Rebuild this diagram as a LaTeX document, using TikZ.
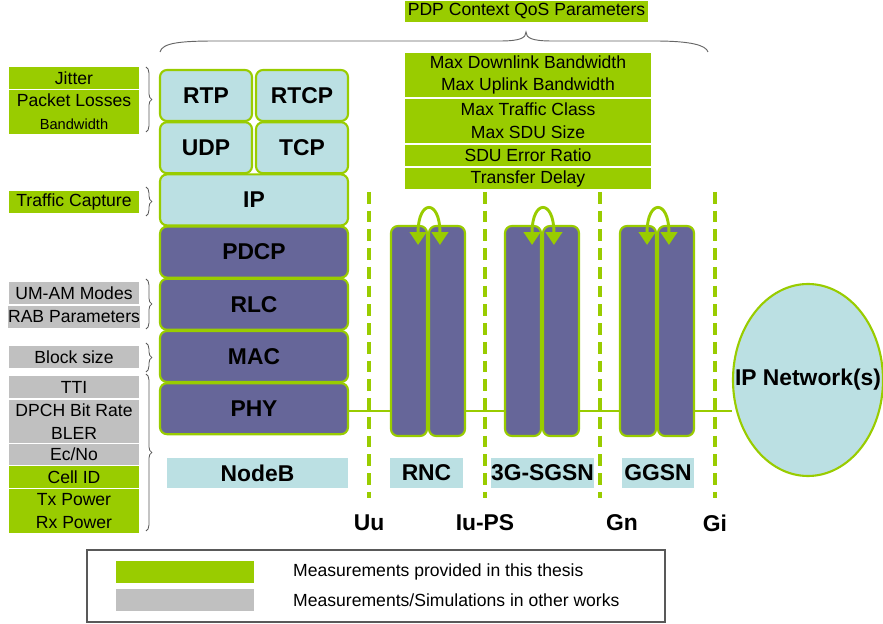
\documentclass[tikz,border=0pt]{standalone}
\usepackage{fontspec}
\setmainfont{Liberation Sans}
\usetikzlibrary{arrows.meta,shapes.geometric,decorations.pathreplacing,backgrounds,calc}
\definecolor{qosgreen}{HTML}{99CC00}
\definecolor{stackblue}{HTML}{BBE0E3}
\definecolor{stackpurple}{HTML}{666699}
\definecolor{othergray}{HTML}{C0C0C0}
\tikzset{
  sz/.style 2 args={minimum width=#1*0.03cm,minimum height=#2*0.03cm},
  meas/.style={fill=#1,inner sep=0pt,align=center,font=\fontsize{15}{19.5}\selectfont},
  stack/.style={draw=qosgreen,line width=1.8pt,rounded corners=6pt,fill=#1,inner sep=0pt,font=\fontsize{19.5}{22}\selectfont\bfseries},
  devtag/.style={fill=stackblue,inner sep=0pt,font=\fontsize{19.5}{22}\selectfont\bfseries},
  lbrace/.style={decorate,decoration={brace,amplitude=5pt},draw=black!65,line width=0.7pt},
  iface/.style={draw=qosgreen,line width=3pt,dash pattern=on 10pt off 6pt},
  hop/.style={draw=qosgreen,line width=2.5pt,{Triangle[width=14pt,length=11pt]}-{Triangle[width=14pt,length=11pt]}},
}
\begin{document}
\begin{tikzpicture}[x=0.03cm,y=-0.03cm]
\useasboundingbox (0,0) rectangle (883,624);
% PDP context parameters
\node[meas=qosgreen,sz={243}{21}] (pdp) at (526.5,11.5) {PDP Context QoS Parameters};
\draw[black!60,line width=0.8pt] (160,52) .. controls (162,43) and (180,41) .. (215,41) -- (500,41) .. controls (520,41) and (526,38) .. (526,32) .. controls (526,38) and (532,41) .. (552,41) -- (655,41) .. controls (690,41) and (706,45) .. (708,52);
\node[meas=qosgreen,sz={246}{44}] (qa) at (528,75) {Max Downlink Bandwidth\\Max Uplink Bandwidth};
\node[meas=qosgreen,sz={246}{44}] (qb) at (528,121) {Max Traffic Class\\Max SDU Size};
\node[meas=qosgreen,sz={246}{21}] (qc) at (528,155.5) {SDU Error Ratio};
\node[meas=qosgreen,sz={246}{21}] (qd) at (528,178.5) {Transfer Delay};
% measured parameters on the left
\node[meas=qosgreen,sz={130}{22}] (jit) at (74,78) {Jitter};
\node[meas=qosgreen,sz={130}{44}] (pkt) at (74,112) {Packet Losses\\{\fontsize{12.5}{15}\selectfont Bandwidth}};
\node[meas=qosgreen,sz={130}{22}] (trf) at (74,202) {Traffic Capture};
\node[meas=othergray,sz={130}{22}] (umam) at (74,293) {UM-AM Modes};
\node[meas=othergray,sz={130}{22}] (rab) at (74,317) {RAB Parameters};
\node[meas=othergray,sz={130}{22}] (blk) at (74,357) {Block size};
\node[meas=othergray,sz={130}{22}] (tti) at (74,387) {TTI};
\node[meas=othergray,sz={130}{43}] (dpch) at (74,421.5) {DPCH Bit Rate\\BLER};
\node[meas=othergray,sz={130}{21}] (ecno) at (74,454.5) {Ec/No};
\node[meas=qosgreen,sz={130}{22}] (cell) at (74,477) {Cell ID};
\node[meas=qosgreen,sz={130}{44}] (pwr) at (74,511) {Tx Power\\Rx Power};
\foreach \ya/\yb in {67/132,187/216,279/329,343/372,374/531}
  \draw[lbrace] (146,\ya) -- (146,\yb);
% protocol stack
\node[stack=stackblue,sz={92}{51}] (rtp) at (206,95.5) {RTP};
\node[stack=stackblue,sz={92}{51}] (rtcp) at (302,95.5) {RTCP};
\node[stack=stackblue,sz={92}{51}] (udp) at (206,147.7) {UDP};
\node[stack=stackblue,sz={92}{51}] (tcp) at (302,147.7) {TCP};
\node[stack=stackblue,sz={188}{51}] (ip) at (254,199.9) {IP};
\foreach \nm/\lab/\y in {pdcp/PDCP/252.1,rlc/RLC/304.3,mac/MAC/356.5,phy/PHY/408.7}
  \node[stack=stackpurple,sz={188}{51}] (\nm) at (254,\y) {\lab};
% interfaces
\foreach \x/\lab/\lx/\nm in {369/Uu/369/uu,485/Iu-PS/485/iups,600/Gn/622/gn,715/Gi/715/gi} {
  \draw[iface] (\x,192) -- (\x,498);
  \node[font=\fontsize{19.5}{22}\selectfont\bfseries] (\nm) at (\lx,523) {\lab};
}
% network elements
\foreach \nm/\x in {rnc/409,sgsn/523,ggsn/638} {
  \node[stack=stackpurple,sz={36}{210}] (\nm1) at (\x,331) {};
  \node[stack=stackpurple,sz={36}{210}] (\nm2) at (\x+38,331) {};
  \draw[hop] ($(\nm1.north east)+(-10,20)$) .. controls +(0,-46) and +(0,-46) .. ($(\nm2.north west)+(12,20)$);
}
\node[devtag,sz={181}{30}] (nodeb) at (257.5,473) {NodeB};
\node[devtag,sz={73}{30}] (rnc) at (426.5,473) {RNC};
\node[devtag,sz={101}{30}] (sgsn) at (542.5,473) {3G-SGSN};
\node[devtag,sz={72}{30}] (ggsn) at (658,473) {GGSN};
\node[ellipse,draw=qosgreen,line width=1.8pt,fill=stackblue,inner sep=0pt,sz={150}{192},
  label={[font=\fontsize{19.5}{22}\selectfont\bfseries]center:{IP Network(s)}}] (net) at (808,380) {};
\begin{scope}[on background layer]
\draw[qosgreen,line width=2pt] ([yshift=-2pt]phy.east) -- ([yshift=-2pt]phy.east -| net.west);
\end{scope}
% legend
\draw[black!65,line width=0.9pt] (87,550) rectangle (665,622);
\node[meas=qosgreen,sz={138}{22}] (lgreen) at (185,572) {};
\node[meas=othergray,sz={138}{22}] (lgray) at (185,600) {};
\node[anchor=west,inner sep=0pt,font=\fontsize{15}{17}\selectfont] (tgreen) at (293,572) {Measurements provided in this thesis};
\node[anchor=west,inner sep=0pt,font=\fontsize{15}{17}\selectfont] (tgray) at (293,600) {Measurements/Simulations in other works};
\end{tikzpicture}
\end{document}
